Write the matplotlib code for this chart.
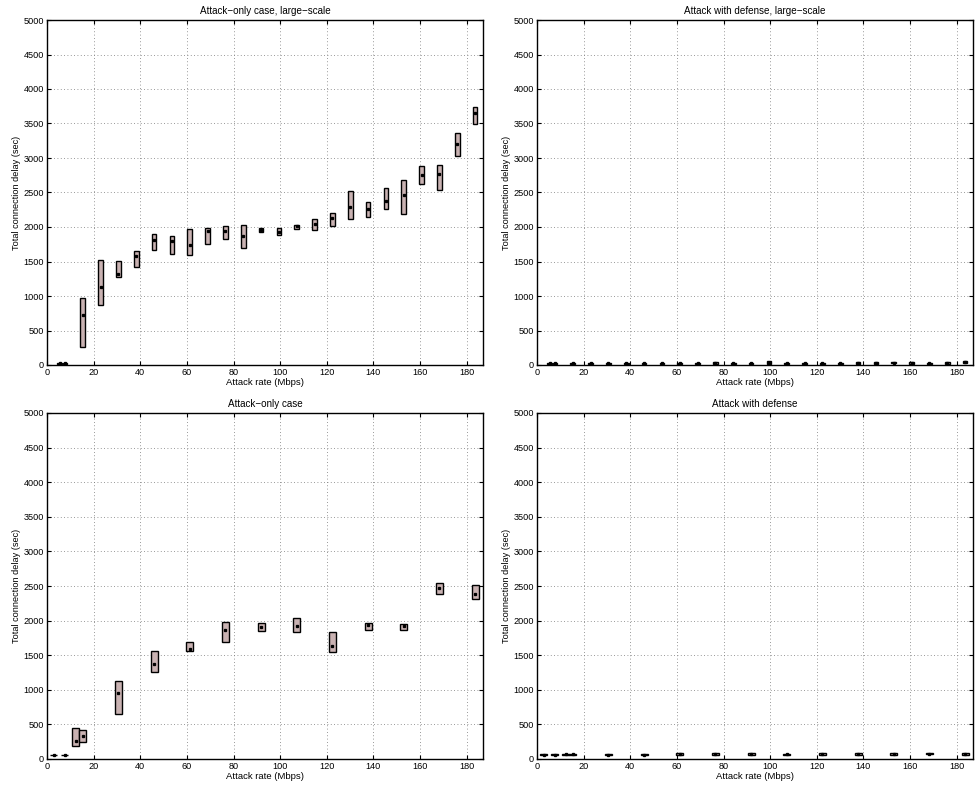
import numpy as np
import matplotlib
matplotlib.use("Agg")
import matplotlib.pyplot as plt

plt.rcParams['font.family'] = ['Liberation Sans', 'DejaVu Sans']

# attack rates (Mbps)
rate_large = [5.4, 7.65, 15.3, 22.95, 30.6, 38.25, 45.9, 53.55, 61.2, 68.85, 76.5, 84.15,
              91.8, 99.45, 107.1, 114.75, 122.4, 130.05, 137.7, 145.35, 153.0, 160.65,
              168.3, 175.95, 183.6]
rate_small = [3.0, 7.65, 12.3, 15.3, 30.6, 45.9, 61.2, 76.5, 91.8, 107.1, 122.4, 137.7,
              153.0, 168.3, 183.6]

# attack-only, large-scale (sec)
ao_large_lo = [12, 12, 256, 876, 1273, 1418, 1670, 1612, 1588, 1754, 1826, 1700,
               1928, 1889, 1976, 1961, 2010, 2121, 2145, 2256, 2193, 2623, 2541, 3024, 3488]
ao_large_hi = [35, 35, 968, 1520, 1505, 1646, 1892, 1868, 1975, 1986, 2010, 2024,
               1990, 1986, 2034, 2111, 2198, 2522, 2362, 2565, 2676, 2879, 2899, 3362, 3739]
ao_large_med = [25, 25, 731, 1128, 1312, 1578, 1810, 1800, 1738, 1947, 1947, 1865,
                1961, 1928, 2010, 2039, 2135, 2285, 2266, 2372, 2469, 2749, 2768, 3203, 3652]

# attack with defense, large-scale (sec)
df_large_lo = [14, 14, 12, 14, 13, 14, 12, 14, 15, 14, 16, 15, 14, 18, 14, 14, 15, 14,
               16, 20, 22, 16, 15, 15, 24]
df_large_hi = [34, 34, 32, 33, 32, 34, 33, 36, 34, 35, 37, 36, 35, 52, 34, 35, 36, 35,
               40, 46, 50, 42, 36, 38, 56]
df_large_med = [25, 25, 22, 24, 23, 24, 22, 25, 25, 25, 26, 26, 25, 35, 24, 25, 26, 25,
                28, 33, 36, 30, 26, 27, 40]

# attack-only (sec)
ao_lo = [55, 55, 184, 247, 649, 1264, 1564, 1690, 1850, 1830, 1540, 1870, 1865, 2384, 2311]
ao_hi = [62, 62, 455, 416, 1133, 1564, 1695, 1985, 1960, 2040, 1830, 1965, 1955, 2548, 2510]
ao_med = [58, 58, 266, 334, 959, 1370, 1593, 1860, 1910, 1925, 1640, 1930, 1915, 2476, 2384]

# attack with defense (sec)
df_lo = [52, 55, 58, 58, 55, 52, 58, 62, 65, 58, 60, 60, 62, 66, 62]
df_hi = [70, 72, 78, 78, 74, 72, 80, 84, 88, 76, 80, 80, 82, 88, 84]
df_med = [62, 63, 68, 68, 64, 62, 70, 74, 76, 67, 70, 70, 72, 78, 74]

titles = ["Attack\u2212only case, large\u2212scale", "Attack with defense, large\u2212scale",
          "Attack\u2212only case", "Attack with defense"]

fig = plt.figure(figsize=(9.75, 7.91), dpi=100)
W, H = 975.0, 791.0
boxes = [(47, 20, 436, 345), (537, 20, 436, 345), (47, 413, 436, 346), (537, 413, 436, 346)]
panels = [(rate_large, ao_large_lo, ao_large_hi, ao_large_med, 2.0),
          (rate_large, df_large_lo, df_large_hi, df_large_med, 2.0),
          (rate_small, ao_lo, ao_hi, ao_med, 3.0),
          (rate_small, df_lo, df_hi, df_med, 3.0)]

for (l, t, w, h), (x, lo, hi, med, bw), title in zip(boxes, panels, titles):
    ax = fig.add_axes([l / W, 1 - (t + h) / H, w / W, h / H])
    x = np.array(x)
    lo = np.array(lo)
    hi = np.array(hi)
    ax.bar(x, hi - lo, bottom=lo, width=bw, color='#c9b2b2', edgecolor='k', linewidth=1.0, zorder=3)
    ax.plot(x, med, 's', ms=1.4, color='k', zorder=4)
    ax.set_xlim(0, 187)
    ax.set_ylim(0, 5000)
    ax.set_xticks(np.arange(0, 181, 20))
    ax.set_yticks(np.arange(0, 5001, 500))
    ax.grid(True, linestyle=(0, (1, 3)), color='#777777', linewidth=0.6)
    ax.set_axisbelow(True)
    ax.tick_params(direction='in', top=True, right=True, length=3, width=0.8, labelsize=6.6, pad=2)
    for s in ax.spines.values():
        s.set_linewidth(1.0)
    ax.set_title(title, fontsize=7.1, pad=4)
    ax.set_xlabel("Attack rate (Mbps)", fontsize=6.8, labelpad=1)
    ax.set_ylabel("Total connection delay (sec)", fontsize=6.6, labelpad=2)

fig.savefig("out.png", dpi=100)
